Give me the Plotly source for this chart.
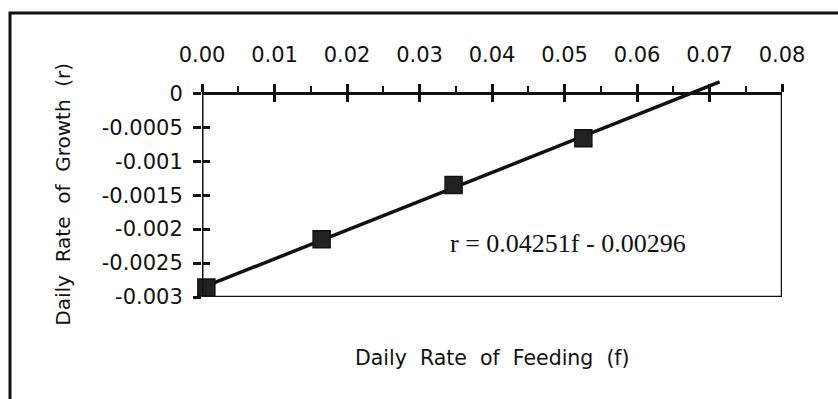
import numpy as np
import plotly.graph_objects as go

# ---- data ----
feeding = [0.0006, 0.0165, 0.0347, 0.0526]
growth = [-0.00286, -0.00215, -0.00135, -0.00066]
fit_f_range = [0.0, 0.0714]
x_tickvals = [0.00, 0.01, 0.02, 0.03, 0.04, 0.05, 0.06, 0.07, 0.08]
x_ticktext = ["0.00", "0.01", "0.02", "0.03", "0.04", "0.05", "0.06", "0.07", "0.08"]
y_tickvals = [0, -0.0005, -0.001, -0.0015, -0.002, -0.0025, -0.003]
y_ticktext = ["0", "-0.0005", "-0.001", "-0.0015", "-0.002", "-0.0025", "-0.003"]
equation_text = "r = 0.04251f - 0.00296"
x_title = "Daily\u00a0 Rate\u00a0 of\u00a0 Feeding\u00a0 (f)"
y_title = "Daily\u00a0 Rate\u00a0 of\u00a0 Growth\u00a0 (r)"

# linear fit through the points
slope, intercept = np.polyfit(feeding, growth, 1)
fit_f = np.array(fit_f_range)
fit_r = slope * fit_f + intercept

# ---- layout geometry ----
W, H = 838, 399
PL, PR = 202, 782          # plot area left/right in px
PB = 296.7                 # plot bottom px
Y_RANGE = [-0.003, 0.0003]
PX_PER_UNIT_Y = 67.8 / 0.001
PT = PB - (Y_RANGE[1] - Y_RANGE[0]) * PX_PER_UNIT_Y


def px_x(px):
    return (px - PL) / (PR - PL)


def px_y(py):
    return (PB - py) / (PB - PT)


zero_pos = (0 - Y_RANGE[0]) / (Y_RANGE[1] - Y_RANGE[0])
INK = "#111111"
FONT = "DejaVu Sans"

fig = go.Figure()
fig.add_trace(go.Scatter(
    x=fit_f, y=fit_r, mode="lines",
    line=dict(color=INK, width=3.5), hoverinfo="skip", showlegend=False,
))
fig.add_trace(go.Scatter(
    x=feeding, y=growth, mode="markers",
    marker=dict(symbol="square", size=17, color="#222222",
                line=dict(color=INK, width=1.5)),
    showlegend=False, cliponaxis=False,
))
# invisible trace on overlay axes so they are drawn
fig.add_trace(go.Scatter(x=[None], y=[None], xaxis="x2", yaxis="y2",
                         showlegend=False, hoverinfo="skip"))

common_tick = dict(ticklen=8, tickwidth=2.5, tickcolor=INK)

fig.update_layout(
    width=W, height=H,
    margin=dict(l=PL, r=W - PR, t=PT, b=H - PB, pad=0),
    paper_bgcolor="white", plot_bgcolor="white",
    xaxis=dict(
        range=[0, 0.08], side="top", anchor="free", position=zero_pos,
        tickvals=x_tickvals, ticktext=x_ticktext, ticks="outside",
        **common_tick,
        minor=dict(ticks="outside", dtick=0.005, tick0=0, ticklen=6,
                   tickwidth=2, tickcolor=INK, showgrid=False),
        showline=True, linewidth=3, linecolor=INK,
        showgrid=False, zeroline=False,
        tickfont=dict(family=FONT, size=21, color=INK),
        ticklabelstandoff=14,
    ),
    xaxis2=dict(
        range=[0, 0.08], side="top", anchor="free", position=zero_pos,
        overlaying="x", tickvals=x_tickvals, ticks="inside", **common_tick,
        showticklabels=False, showline=False, showgrid=False, zeroline=False,
    ),
    yaxis=dict(
        range=Y_RANGE, tickvals=y_tickvals, ticktext=y_ticktext,
        ticks="outside", **common_tick,
        showline=False, showgrid=False, zeroline=False,
        tickfont=dict(family=FONT, size=21, color=INK),
        ticklabelstandoff=6,
    ),
    yaxis2=dict(
        range=Y_RANGE, overlaying="y", anchor="x", side="left",
        tickvals=y_tickvals, ticks="inside", **common_tick,
        showticklabels=False, showline=False, showgrid=False, zeroline=False,
    ),
    shapes=[
        # plot frame
        dict(type="line", xref="x", yref="y", x0=0, x1=0, y0=-0.003, y1=0,
             line=dict(color=INK, width=3)),
        dict(type="line", xref="x", yref="y", x0=0, x1=0.08, y0=-0.003, y1=-0.003,
             line=dict(color=INK, width=2.5)),
        dict(type="line", xref="x", yref="y", x0=0.08, x1=0.08, y0=-0.003, y1=0,
             line=dict(color=INK, width=2.5)),
        # outer border of the figure
        dict(type="rect", xref="paper", yref="paper",
             x0=px_x(10), x1=px_x(850), y0=px_y(420), y1=px_y(13),
             line=dict(color=INK, width=3), layer="below"),
    ],
    annotations=[
        dict(text=x_title, xref="paper", yref="paper", x=px_x(492), y=px_y(358),
             xanchor="center", yanchor="middle", showarrow=False,
             font=dict(family=FONT, size=20.5, color=INK)),
        dict(text=y_title, xref="paper", yref="paper", x=px_x(63), y=px_y(194.5),
             xanchor="center", yanchor="middle", showarrow=False, textangle=-90,
             font=dict(family=FONT, size=20, color=INK)),
        dict(text=equation_text, xref="x", yref="y", x=0.0339, y=-0.00221,
             xanchor="left", yanchor="middle", showarrow=False,
             font=dict(family="Liberation Serif", size=26, color=INK)),
    ],
)

fig.write_html(
    "out.html",
    config={"displayModeBar": False},
    post_script="document.body.style.margin='0';document.body.style.overflow='hidden';",
)
